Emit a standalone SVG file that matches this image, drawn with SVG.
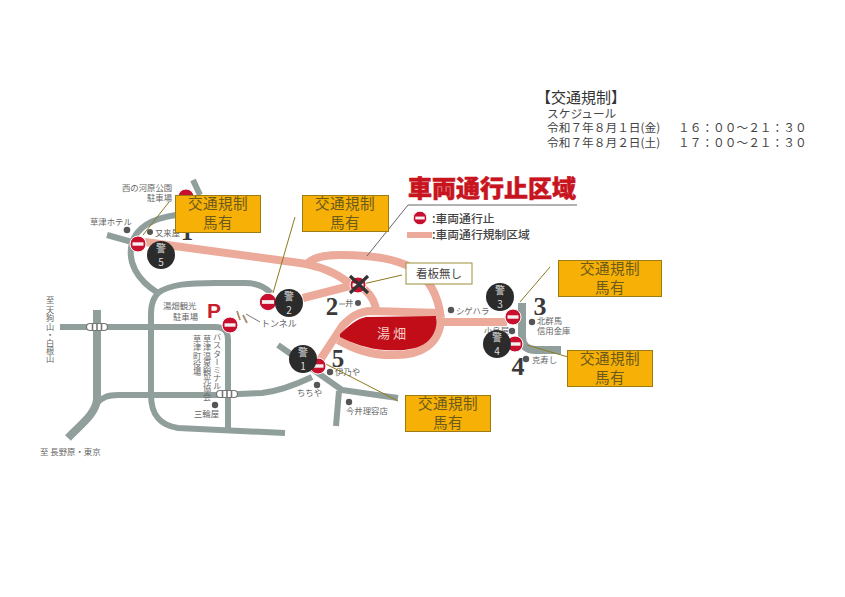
<svg xmlns="http://www.w3.org/2000/svg" width="845" height="597" viewBox="0 0 845 597">
<style>
text{font-family:"Noto Sans CJK JP","Noto Sans",sans-serif}
.road{fill:none;stroke:#909f9c;stroke-width:6;stroke-linejoin:round}
.route{fill:none;stroke:#ebaa9a;stroke-width:8;stroke-linejoin:round}
.lead{fill:none;stroke:#8c7a1e;stroke-width:1}
.lbl{font-size:8.4px;fill:#666}
.num{font-family:"Liberation Serif",serif;font-weight:700;font-size:25px;fill:#3a3a3a;text-anchor:middle}
.box{fill:#f6b006;stroke:#9c7c12;stroke-width:1}
.bt{font-size:14.6px;fill:#6b5a1a;text-anchor:middle;letter-spacing:.4px}
.ne{fill:#c8102e;stroke:#fff;stroke-width:1}
.bar{fill:#f4f0f0}
.pc{fill:#2b2b2b}
.pt{font-size:10px;fill:#ddd;text-anchor:middle}
.sch{font-size:11.7px;fill:#444}
.xing{fill:#fff;stroke:#777;stroke-width:1.2}
.xb{stroke:#777;stroke-width:1.6}
.dot{fill:#555}
.v{writing-mode:vertical-rl;font-size:8.2px;fill:#666}
</style>
<defs>
<g id="noentry"><circle class="ne" r="8"/><rect class="bar" x="-5.500" y="-1.700" width="11" height="3.400"/></g>
<g id="crossing"><rect class="xing" x="-10.500" y="-3.500" width="21" height="7" rx="3.500"/><path class="xb" d="M-4.500-3.500V3.500M0-3.500V3.500M4.500-3.500V3.500"/></g>
</defs>

<g id="roads">
<path class="road" d="M193 180L200 195"/>
<path class="road" d="M176 215C155 218 137 226 132 243C127 262 137 280 158 293"/>
<path class="road" d="M107 235L132 242"/>
<path class="road" d="M158 293C150 302 151 312 151 323V395C151 415 160 425 178 428L285 433"/>
<path class="road" d="M158 293C170 284 190 283 215 283H245C256 283 264 286 271 293"/>
<path class="road" d="M60 327H215C224 327 228 331 228 340V430"/>
<path class="road" style="stroke-width:8" d="M97 310V400C95 415 80 425 68 438"/>
<path class="road" d="M97 403C103 397 108 395 118 395H217L262 393C280 391 295 385 312 377"/>
<path class="road" d="M278 345L342 390L398 398"/>
<path class="road" d="M339 391L336 426"/>
<path class="road" style="stroke-width:8" d="M522 303V337C522 346 527 350 536 350H561"/>
</g>

<g id="routes">
<path class="route" d="M145 242L300 263C320 266 338 274 350 284"/>
<path class="route" d="M308 263C314 257 324 255 340 255C370 255 395 258 412 268C428 277 438 295 441 318"/>
<path class="route" d="M338 340C355 350 372 356 395 355C420 355 440 345 441 318"/>
<path class="route" d="M303 298L350 286"/>
<path class="route" d="M364 289C372 296 376 303 376 312"/>
<path class="route" d="M441 313L372 311C358 311 350 318 343 325L320 360"/>
<path class="route" d="M441 322H507"/>
</g>
<path id="yubatake" fill="#c10d18" d="M340 334C350 325 356 319 366 317L436 316C438 325 435 335 427 342C417 350 402 351 385 350C368 349 352 343 340 337Z"/>

<g id="labels">
<text class="lbl" x="122" y="191">西の河原公園</text>
<text class="lbl" x="147" y="201">駐車場</text>
<text class="lbl" x="90" y="225">草津ホテル</text>
<circle class="dot" cx="127" cy="230" r="3.300"/>
<circle class="dot" cx="150" cy="232" r="3"/>
<text class="lbl" x="155" y="236">又来屋</text>
<text class="lbl" x="163" y="309">湯畑観光</text>
<text class="lbl" x="173" y="320">駐車場</text>
<text x="214" y="318" font-weight="700" font-size="21" fill="#c8202c" text-anchor="middle" style="font-family:'Liberation Sans',sans-serif">P</text>
<text class="v" x="217" y="333">バスターミナル</text>
<text class="v" x="207" y="335">草津温泉観光協会</text>
<text class="v" x="197" y="335">草津町役場</text>
<text class="v" x="50" y="296">至 天狗山・白根山</text>
<text class="lbl" x="40" y="455">至 長野原・東京</text>
<text class="lbl" x="261" y="327" style="font-size:9px">トンネル</text>
<path d="M237 311L240 320M243 315L247 323" stroke="#a98c70" stroke-width="1.800" fill="none"/>
<path d="M246 314L260 322" stroke="#777" stroke-width="1" fill="none"/>
<circle class="dot" cx="215" cy="405" r="3.200"/>
<text class="lbl" x="194" y="417">三輪屋</text>
<text class="num" x="332" y="315">2</text>
<path d="M339 304H345" stroke="#666" stroke-width=".8"/>
<text class="lbl" x="345" y="306">井</text>
<circle class="dot" cx="358" cy="303" r="3"/>
<circle class="dot" cx="451" cy="310" r="3.200"/>
<text class="lbl" x="456" y="314">シゲハラ</text>
<text class="num" x="540" y="315" style="font-size:26px">3</text>
<circle class="dot" cx="532" cy="322" r="3.200"/>
<text class="lbl" x="537" y="324">北群馬</text>
<text class="lbl" x="537" y="334">信用金庫</text>
<text class="lbl" x="484" y="334">小島屋</text>
<circle class="dot" cx="512" cy="331" r="3.200"/>
<text class="num" x="518" y="375" style="font-size:26px">4</text>
<circle class="dot" cx="526" cy="359" r="3.200"/>
<text class="lbl" x="532" y="363">克寿し</text>
<text class="num" x="338" y="367">5</text>
<circle class="dot" cx="330" cy="372" r="3.200"/>
<text class="lbl" x="335" y="375">伊乃や</text>
<circle class="dot" cx="317" cy="385" r="3.200"/>
<text class="lbl" x="297" y="396">ちちや</text>
<circle class="dot" cx="349" cy="402" r="3.200"/>
<text class="lbl" x="346" y="414">今井理容店</text>
<text x="393" y="338" font-size="13" fill="#f3cfc8" text-anchor="middle" letter-spacing="3">湯畑</text>
</g>

<use href="#crossing" x="97" y="327"/>
<use href="#crossing" x="227" y="394"/>

<g id="legend">
<text x="408" y="197" font-size="24" font-weight="900" fill="#c8141e" stroke="#c8141e" stroke-width=".5">車両通行止区域</text>
<use href="#noentry" transform="translate(420 218) scale(.85)"/>
<rect x="407" y="232" width="25" height="6" fill="#ebaa9a"/>
<text x="432" y="223" font-size="11.800" font-weight="500" fill="#444">:車両通行止</text>
<text x="432" y="239" font-size="11.800" font-weight="500" fill="#444">:車両通行規制区域</text>
</g>

<g id="connectors">
<path d="M577 205H408L367 256" fill="none" stroke="#666" stroke-width="1"/>
<path class="lead" d="M169 202L143 235"/>
<path class="lead" d="M295 217L273 293"/>
<path class="lead" d="M402 275L363 284"/>
<path class="lead" d="M322 362L398 401"/>
<path class="lead" d="M550 267L520 302"/>
<path class="lead" d="M527 345L568 357"/>
</g>

<g id="stop-1-top"><use href="#noentry" x="186" y="197"/><text class="num" x="187" y="240">1</text></g>
<g id="stop-5"><use href="#noentry" x="138" y="244"/><circle class="pc" cx="161" cy="255" r="14"/><text class="pt" x="161" y="252">警</text><text class="pt" x="161" y="266">5</text></g>
<g id="stop-2"><use href="#noentry" transform="translate(268 302) scale(1.100)"/><circle class="pc" cx="289" cy="303" r="14"/><text class="pt" x="289" y="300">警</text><text class="pt" x="289" y="314">2</text></g>
<g id="stop-p"><use href="#noentry" x="230" y="325"/></g>
<g id="stop-1"><use href="#noentry" x="318" y="366"/><circle class="pc" cx="303" cy="359" r="14"/><text class="pt" x="303" y="356">警</text><text class="pt" x="303" y="370">1</text></g>
<g id="stop-3"><use href="#noentry" x="513" y="317"/><circle class="pc" cx="500" cy="297" r="14"/><text class="pt" x="500" y="294">警</text><text class="pt" x="500" y="308">3</text></g>
<g id="stop-4"><use href="#noentry" x="515" y="344"/><circle class="pc" cx="497" cy="344" r="14"/><text class="pt" x="497" y="341">警</text><text class="pt" x="497" y="355">4</text></g>
<g id="x-mark"><use href="#noentry" x="358" y="285"/><path d="M350 276L368 293M368 276L350 293" stroke="#333" stroke-width="3.200"/></g>

<g id="box-a"><rect class="box" x="175.500" y="195.500" width="85" height="37"/><text class="bt" x="218" y="209">交通規制</text><text class="bt" x="218" y="228">馬有</text></g>
<g id="box-b"><rect class="box" x="302.500" y="195.500" width="86" height="36"/><text class="bt" x="345" y="209">交通規制</text><text class="bt" x="345" y="228">馬有</text></g>
<g id="box-c"><rect class="box" x="558.500" y="260.500" width="103" height="36"/><text class="bt" x="610" y="274">交通規制</text><text class="bt" x="610" y="293">馬有</text></g>
<g id="box-d"><rect class="box" x="567.500" y="350.500" width="85" height="36"/><text class="bt" x="610" y="364">交通規制</text><text class="bt" x="610" y="383">馬有</text></g>
<g id="box-e"><rect class="box" x="405.500" y="395.500" width="85" height="36"/><text class="bt" x="448" y="409">交通規制</text><text class="bt" x="448" y="428">馬有</text></g>
<g id="box-sign"><rect x="406" y="263" width="66" height="21" fill="#fff" stroke="#9c8f3a" stroke-width="1"/><text x="439" y="278" font-size="11.500" fill="#444" text-anchor="middle">看板無し</text></g>

<g id="schedule">
<text x="536" y="103" font-size="15" fill="#333">【交通規制】</text>
<text class="sch" x="547" y="118">スケジュール</text>
<text class="sch" x="547" y="132">令和７年８月１日(金)</text>
<text class="sch" x="678" y="132">１６：００～２１：３０</text>
<text class="sch" x="547" y="147">令和７年８月２日(土)</text>
<text class="sch" x="678" y="147">１７：００～２１：３０</text>
</g>
</svg>
